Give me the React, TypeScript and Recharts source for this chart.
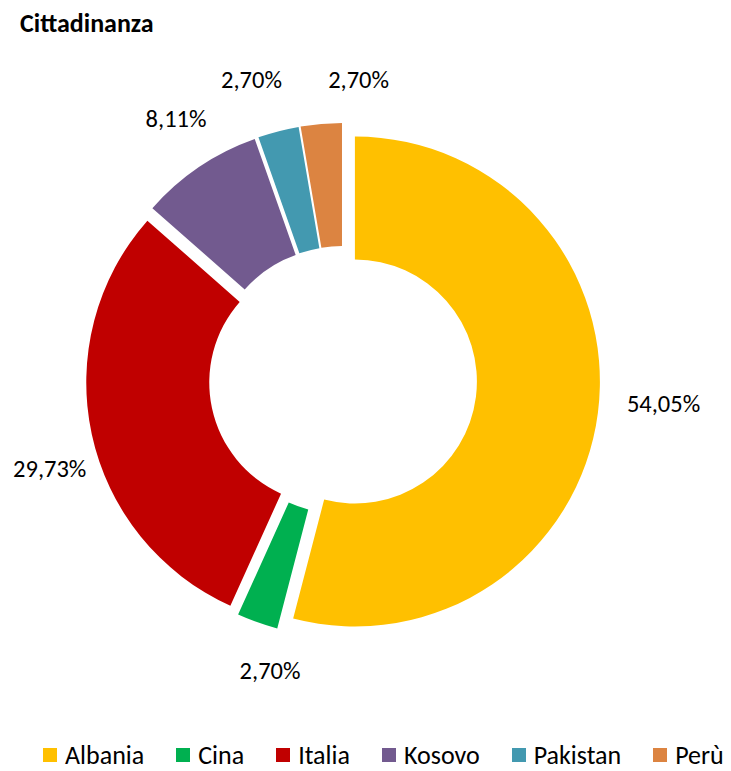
import { PieChart, Pie, Cell, Legend } from 'recharts';

const countries = ['Albania', 'Cina', 'Italia', 'Kosovo', 'Pakistan', 'Perù'];
const shares = [54.05, 2.7, 29.73, 8.11, 2.7, 2.7];
const colors = ['#FFC000', '#00B050', '#C00000', '#725A8F', '#4399B0', '#DC8441'];

const data = countries.map((name, i) => ({ name, value: shares[i] }));

const W = 731;
const H = 771;
const CX = 343;
const CY = 380;
const INNER = 122;
const OUTER = 245;
const EXPLODE = 12; // every slice is pulled out a bit, like the excel doughnut
const LABEL_R = 300;
const FONT = "Carlito, Lato, 'Liberation Sans', sans-serif";

// labels in the original were moved by hand, so nudge them
const labelNudge = [
    [23, -14],
    [27, 8],
    [0, 26],
    [1, -12],
    [-16, -10],
    [41, -1],
];

const total = shares.reduce((a, b) => a + b, 0);
// mid angle of each slice in degrees, clockwise from 12 o'clock
const midAngles = shares.map((v, i) => {
    const before = shares.slice(0, i).reduce((a, b) => a + b, 0);
    return ((before + v / 2) / total) * 360;
});

const dirOf = (deg: number) => {
    const r = (deg * Math.PI) / 180;
    return [Math.sin(r), -Math.cos(r)];
};

const pctLabel = (v: number) => v.toFixed(2).replace('.', ',') + '%';

const makeLabel = (j: number) => (props: any) => {
    if (props.index !== j) return null;
    const [dx, dy] = dirOf(midAngles[j]);
    const x = CX + dx * LABEL_R + labelNudge[j][0];
    const y = CY + dy * LABEL_R + labelNudge[j][1];
    return (
        <text x={x} y={y} textAnchor="middle" dominantBaseline="central" fontFamily={FONT} fontSize={24.5} fill="#000">
            {pctLabel(shares[j])}
        </text>
    );
};

const LegendRow = () => (
    <div style={{ display: 'flex', alignItems: 'center', height: 26, lineHeight: '26px', paddingLeft: 43, fontFamily: FONT, fontSize: 26, color: '#000', whiteSpace: 'nowrap' }}>
        {countries.map((c, i) => (
            <div key={c} style={{ display: 'flex', alignItems: 'center', marginRight: 32 }}>
                <span style={{ display: 'inline-block', width: 14, height: 14, background: colors[i], marginRight: 8 }}></span>
                <span>{c}</span>
            </div>
        ))}
    </div>
);

export default function App() {
    return (
        <div style={{ position: 'absolute', left: 0, top: 0, width: W, height: H, background: '#fff', overflow: 'hidden' }}>
            <PieChart width={W} height={H} margin={{ top: 0, right: 0, bottom: 0, left: 0 }}>
                {countries.map((c, j) => {
                    const [dx, dy] = dirOf(midAngles[j]);
                    return (
                        <Pie
                            key={c}
                            data={data}
                            dataKey="value"
                            nameKey="name"
                            cx={CX + dx * EXPLODE}
                            cy={CY + dy * EXPLODE}
                            innerRadius={INNER}
                            outerRadius={OUTER}
                            startAngle={90}
                            endAngle={-270}
                            stroke="none"
                            isAnimationActive={false}
                            labelLine={false}
                            label={makeLabel(j)}
                            legendType="none"
                        >
                            {data.map((d, i) => (
                                <Cell key={d.name} fill={i === j ? colors[i] : 'none'} />
                            ))}
                        </Pie>
                    );
                })}
                <Legend verticalAlign="bottom" wrapperStyle={{ left: 0, bottom: 3, width: W }} content={() => <LegendRow />} />
            </PieChart>
            <div style={{ position: 'absolute', left: 20, top: 10, fontFamily: FONT, fontSize: 26, fontWeight: 700, lineHeight: '26px', color: '#000' }}>
                Cittadinanza
            </div>
        </div>
    );
}
